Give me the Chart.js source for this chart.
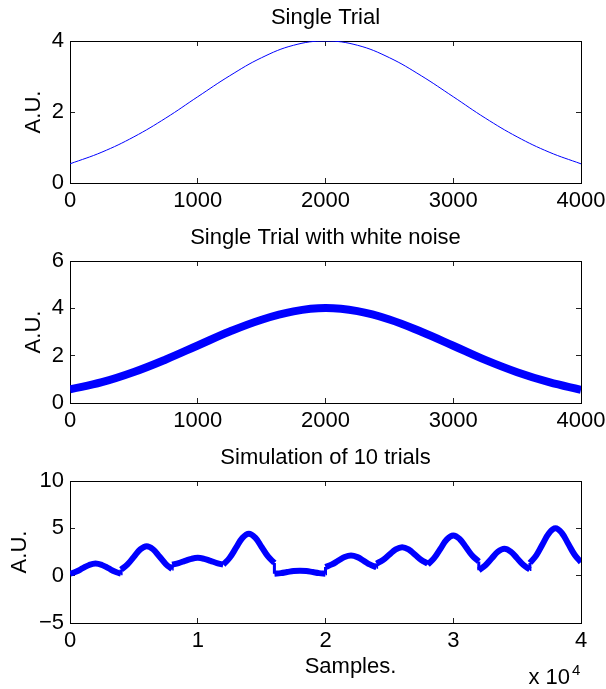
<!DOCTYPE html>
<html>
<head>
<meta charset="utf-8">
<script src="https://cdn.jsdelivr.net/npm/chart.js@4.4.1/dist/chart.umd.min.js"></script>
<style>
  body { margin: 0; background: #fff; }
  #wrap { position: relative; width: 606px; height: 689px; }
  canvas { position: absolute; left: 0; }
</style>
</head>
<body>
<div id="wrap">
  <canvas id="trialChart" width="606" height="230" style="top:0px"></canvas>
  <canvas id="noiseChart" width="606" height="230" style="top:220px"></canvas>
  <canvas id="simChart" width="606" height="249" style="top:440px"></canvas>
</div>
<script>
// single trial (samples / amplitude)
const trialSamples = [0,250,500,750,1000,1250,1500,1750,2000,2250,2500,2750,3000,3250,3500,3750,4000];
const trialValues = [0.54,0.87,1.30,1.83,2.43,3.02,3.53,3.88,4.00,3.88,3.53,3.02,2.43,1.83,1.30,0.87,0.54];
// same trial with white noise (centre of the noisy band)
const noisyValues = [0.58,0.88,1.31,1.84,2.43,3.02,3.52,3.87,4.01,3.88,3.53,3.01,2.42,1.82,1.30,0.88,0.56];

// 10 simulated trials, 4000 samples each, read every 500 samples
const trialOffsets = [0,500,1000,1500,2000,2500,3000,3500,3999];
const simTrials = [
  [0.20,0.44,0.79,1.13,1.28,1.13,0.79,0.44,0.20],
  [0.64,1.19,1.99,2.78,3.12,2.79,2.02,1.23,0.70],
  [1.17,1.33,1.56,1.78,1.88,1.78,1.56,1.33,1.17],
  [1.17,1.89,2.95,3.99,4.43,4.01,3.03,2.03,1.35],
  [0.20,0.27,0.38,0.49,0.53,0.49,0.38,0.27,0.20],
  [0.92,1.19,1.58,1.97,2.13,1.96,1.57,1.16,0.89],
  [1.28,1.66,2.22,2.77,3.00,2.77,2.22,1.66,1.28],
  [1.17,1.85,2.85,3.83,4.25,3.88,3.00,2.10,1.50],
  [0.57,1.07,1.81,2.53,2.84,2.54,1.84,1.12,0.64],
  [1.35,2.15,3.34,4.50,5.00,4.51,3.37,2.21,1.42]
];
const trialLength = 4000;

// tick labels
const xTicksTrial = [0,1000,2000,3000,4000];
const xTicksSim = [0,10000,20000,30000,40000];
const yTicksTrial = [0,2,4];
const yTicksNoise = [0,2,4,6];
const yTicksSim = [-5,0,5,10];

const FONT = '"Liberation Sans", Arial, Helvetica, sans-serif';
const BLUE = '#0000ff';

const textPlugin = {
  id: 'matlabText',
  afterDraw(chart, args, opts) {
    const {ctx, chartArea: a} = chart;
    const cx = (a.left + a.right) / 2;
    ctx.save();
    ctx.fillStyle = '#000';
    ctx.font = '22px ' + FONT;
    ctx.textAlign = 'center';
    ctx.textBaseline = 'alphabetic';
    ctx.fillText(opts.title, cx, a.top - 17);
    if (opts.xlabel) {
      ctx.fillText(opts.xlabel, cx + 25, a.bottom + 50);
    }
    if (opts.exponent) {
      ctx.textAlign = 'right';
      ctx.fillText('x 10', a.right - 11, a.bottom + 61);
      ctx.font = '15px ' + FONT;
      ctx.textAlign = 'left';
      ctx.fillText(opts.exponent, a.right - 9, a.bottom + 52);
    }
    ctx.restore();
  }
};

function tickSetter(list) {
  return scale => { scale.ticks = list.map(v => ({value: v})); };
}

// fix the axis box sizes and drop the label overflow padding, so the plot box sits where MATLAB put it
function fixSize(w, h) {
  return s => {
    if (w !== null) s.width = w;
    if (h !== null) s.height = h;
    s.paddingLeft = s.paddingRight = s.paddingTop = s.paddingBottom = 0;
  };
}

function makeChart(id, cfg) {
  const tickFont = {family: FONT, size: 22};
  const grid = {drawOnChartArea: false, tickLength: -5, color: '#222'};
  const border = {color: '#000', width: 1};
  return new Chart(document.getElementById(id), {
    type: 'line',
    data: {datasets: cfg.datasets},
    options: {
      responsive: false,
      animation: false,
      events: [],
      layout: {padding: {top: 41, right: 25, left: 0, bottom: 0}},
      plugins: {
        legend: {display: false},
        tooltip: {enabled: false},
        matlabText: {title: cfg.title, xlabel: cfg.xlabel, exponent: cfg.exponent}
      },
      elements: {point: {radius: 0}},
      scales: {
        x: {
          type: 'linear', position: 'bottom', min: cfg.xMin, max: cfg.xMax,
          afterBuildTicks: tickSetter(cfg.xTicks),
          afterFit: fixSize(null, cfg.xHeight),
          grid, border,
          ticks: {padding: 10, color: '#000', font: tickFont, maxRotation: 0, autoSkip: false,
            callback: v => String(v / cfg.xScale)}
        },
        xTop: {
          type: 'linear', position: 'top', min: cfg.xMin, max: cfg.xMax,
          afterBuildTicks: tickSetter(cfg.xTicks),
          afterFit: fixSize(null, 0),
          grid, border, ticks: {display: false}
        },
        y: {
          type: 'linear', position: 'left', min: cfg.yMin, max: cfg.yMax,
          afterBuildTicks: tickSetter(cfg.yTicks),
          afterFit: fixSize(70, null),
          grid, border,
          ticks: {padding: 11, color: '#000', font: tickFont, autoSkip: false,
            callback: v => String(v).replace('-', '\u2212')},
          title: {display: true, text: 'A.U.', color: '#000', font: {family: FONT, size: 22},
            padding: {top: cfg.ylabelPad, bottom: 0}}
        },
        yRight: {
          type: 'linear', position: 'right', min: cfg.yMin, max: cfg.yMax,
          afterBuildTicks: tickSetter(cfg.yTicks),
          afterFit: fixSize(0, null),
          grid, border, ticks: {display: false}
        }
      }
    },
    plugins: [textPlugin]
  });
}

makeChart('trialChart', {
  title: 'Single Trial',
  xHeight: 47, ylabelPad: 21,
  xMin: 0, xMax: 4000, xTicks: xTicksTrial, xScale: 1,
  yMin: 0, yMax: 4, yTicks: yTicksTrial,
  datasets: [{
    data: trialSamples.map((x, i) => ({x, y: trialValues[i]})),
    borderColor: BLUE, borderWidth: 1, tension: 0.4, fill: false
  }]
});

makeChart('noiseChart', {
  title: 'Single Trial with white noise',
  xHeight: 47, ylabelPad: 21,
  xMin: 0, xMax: 4000, xTicks: xTicksTrial, xScale: 1,
  yMin: 0, yMax: 6, yTicks: yTicksNoise,
  datasets: [{
    data: trialSamples.map((x, i) => ({x, y: noisyValues[i]})),
    borderColor: BLUE, borderWidth: 8, tension: 0.4, fill: false,
    borderJoinStyle: 'round', borderCapStyle: 'butt'
  }]
});

// one dataset per trial, plus the jumps where one trial ends and the next begins
const simDatasets = simTrials.map((trial, k) => ({
  data: trial.map((y, i) => ({x: k * trialLength + trialOffsets[i], y})),
  borderColor: BLUE, borderWidth: 6, tension: 0.4, fill: false,
  borderJoinStyle: 'round', borderCapStyle: 'butt'
}));
const jumpPoints = [];
for (let k = 1; k < simTrials.length; k++) {
  const prev = simTrials[k - 1];
  jumpPoints.push({x: k * trialLength - 1, y: prev[prev.length - 1]});
  jumpPoints.push({x: k * trialLength, y: simTrials[k][0]});
  jumpPoints.push({x: k * trialLength, y: null});
}
simDatasets.push({
  data: jumpPoints, borderColor: BLUE, borderWidth: 3, tension: 0, fill: false, spanGaps: false
});

makeChart('simChart', {
  title: 'Simulation of 10 trials',
  xlabel: 'Samples.', exponent: '4',
  xHeight: 66, ylabelPad: 7,
  xMin: 0, xMax: 40000, xTicks: xTicksSim, xScale: 10000,
  yMin: -5, yMax: 10, yTicks: yTicksSim,
  datasets: simDatasets
});
</script>
</body>
</html>
